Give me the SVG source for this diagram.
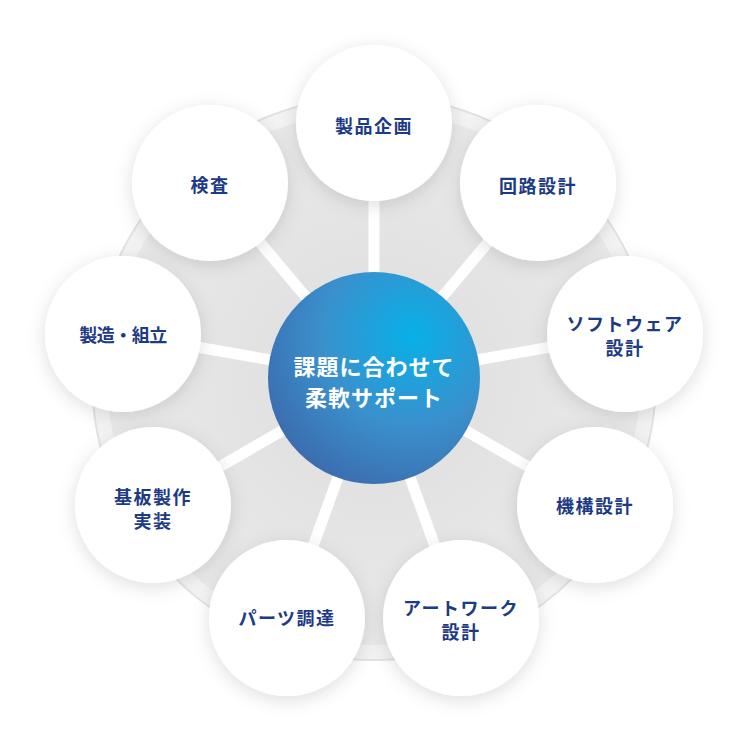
<svg xmlns="http://www.w3.org/2000/svg" width="747" height="740" viewBox="0 0 747 740">
<defs>
<radialGradient id="bgGrad" cx="0.5" cy="0.5" r="0.5">
<stop offset="0" stop-color="#dcdcdc"/>
<stop offset="1" stop-color="#eaeaea"/>
</radialGradient>
<radialGradient id="hubGrad" cx="0.68" cy="0.3" r="0.95" fx="0.68" fy="0.3">
<stop offset="0" stop-color="#08b0e8"/>
<stop offset="0.45" stop-color="#3a90cc"/>
<stop offset="1" stop-color="#3c5a9f"/>
</radialGradient>
<filter id="shadow" x="-30%" y="-30%" width="160%" height="160%">
<feDropShadow dx="0" dy="4" stdDeviation="9" flood-color="#000" flood-opacity="0.13"/>
</filter>
</defs>
<style>
.node circle{fill:#ffffff;filter:url(#shadow)}
.label{font-family:"Noto Sans CJK JP","Noto Sans",sans-serif;font-weight:700;font-size:18px;fill:#1d3a84;text-anchor:middle;dominant-baseline:central;letter-spacing:1.5px}
.tight{letter-spacing:-0.5px}
.hubtext{font-family:"Noto Sans CJK JP","Noto Sans",sans-serif;font-weight:700;font-size:22px;fill:#ffffff;text-anchor:middle;dominant-baseline:central;letter-spacing:1px}
.spoke{stroke:#ffffff;stroke-width:11}
</style>
<g id="background">
<circle cx="374" cy="378" r="282" fill="#f3f3f3" stroke="#e2e2e2" stroke-width="2"/>
<circle cx="374" cy="378" r="267" fill="url(#bgGrad)"/>
</g>
<g id="connectors">
<line class="spoke" x1="374" y1="378" x2="374" y2="123"/>
<line class="spoke" x1="374" y1="378" x2="538" y2="183"/>
<line class="spoke" x1="374" y1="378" x2="625" y2="334"/>
<line class="spoke" x1="374" y1="378" x2="595" y2="505"/>
<line class="spoke" x1="374" y1="378" x2="461" y2="618"/>
<line class="spoke" x1="374" y1="378" x2="287" y2="618"/>
<line class="spoke" x1="374" y1="378" x2="153" y2="505"/>
<line class="spoke" x1="374" y1="378" x2="123" y2="334"/>
<line class="spoke" x1="374" y1="378" x2="210" y2="183"/>
</g>
<g id="hub">
<circle cx="374" cy="378" r="106" fill="url(#hubGrad)"/>
<text class="hubtext" x="374" y="365">課題に合わせて</text>
<text class="hubtext" x="374" y="396">柔軟サポート</text>
</g>
<g id="node-seihin" class="node">
<circle cx="374" cy="123" r="78"/>
<text class="label" x="374" y="125">製品企画</text>
</g>
<g id="node-kairo" class="node">
<circle cx="538" cy="183" r="78"/>
<text class="label" x="538" y="185">回路設計</text>
</g>
<g id="node-software" class="node">
<circle cx="625" cy="334" r="78"/>
<text class="label" x="625" y="323">ソフトウェア</text>
<text class="label" x="625" y="347">設計</text>
</g>
<g id="node-kikou" class="node">
<circle cx="595" cy="505" r="78"/>
<text class="label" x="595" y="505">機構設計</text>
</g>
<g id="node-artwork" class="node">
<circle cx="461" cy="618" r="78"/>
<text class="label" x="461" y="607">アートワーク</text>
<text class="label" x="461" y="631">設計</text>
</g>
<g id="node-parts" class="node">
<circle cx="287" cy="618" r="78"/>
<text class="label" x="287" y="617">パーツ調達</text>
</g>
<g id="node-kiban" class="node">
<circle cx="153" cy="505" r="78"/>
<text class="label" x="153" y="496">基板製作</text>
<text class="label" x="153" y="520">実装</text>
</g>
<g id="node-seizou" class="node">
<circle cx="123" cy="334" r="78"/>
<text class="label tight" x="123" y="334">製造・組立</text>
</g>
<g id="node-kensa" class="node">
<circle cx="210" cy="183" r="78"/>
<text class="label" x="210" y="184">検査</text>
</g>
</svg>
